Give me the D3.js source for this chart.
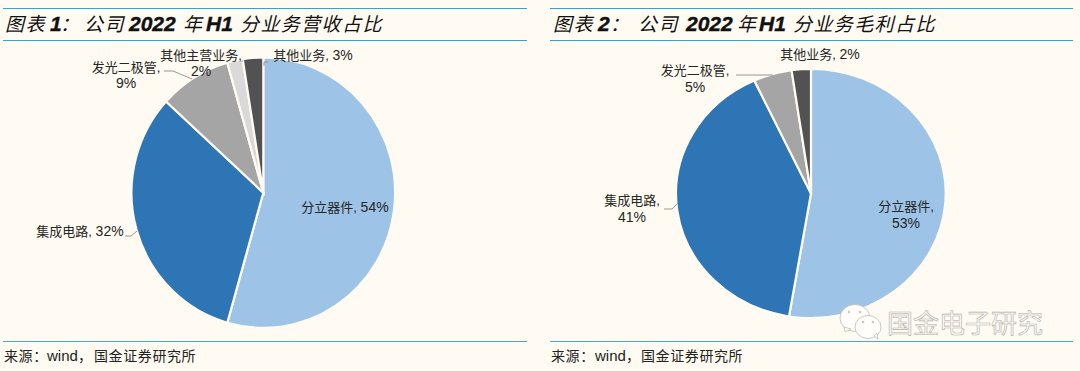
<!DOCTYPE html>
<html>
<head>
<meta charset="utf-8">
<script src="https://cdn.jsdelivr.net/npm/d3@7"></script>
<style>
html, body { margin: 0; padding: 0; background: #fffbf2; }
svg { display: block; }
text { font-family: "Liberation Sans", "Noto Sans CJK SC", sans-serif; }
</style>
</head>
<body>
<div class="container"></div>
<script>
const WIDTH = 1080;
const HEIGHT = 371;

const categoriesA = ['分立器件', '集成电路', '发光二极管', '其他主营业务', '其他业务'];
const valuesA = [54.4, 32.4, 8.8, 1.9, 2.5];
const categoriesB = ['分立器件', '集成电路', '发光二极管', '其他业务'];
const valuesB = [52.6, 40.5, 4.6, 2.3];
const colorsA = ['#9dc3e6', '#2e75b6', '#a5a5a5', '#d9d9d9', '#525252'];
const colorsB = ['#9dc3e6', '#2e75b6', '#a5a5a5', '#525252'];

var svg = d3.select('.container').append('svg')
    .attr('width', WIDTH)
    .attr('height', HEIGHT);

var drawPanel = function(p) {
    var g = svg.append('g');

    g.selectAll('line.rule').data([8.5, 40.5, 341.5]).enter().append('line')
        .attr('x1', p.x0).attr('x2', p.x1)
        .attr('y1', d => d).attr('y2', d => d)
        .attr('stroke', d => d === 341.5 ? '#4aa8d8' : '#1fa9e6')
        .attr('stroke-width', 1.2);

    // title pieces are placed one by one, cjk is thin, latin is heavy
    p.title.forEach(function(t) {
        g.append('text')
            .attr('x', t.x).attr('y', 31)
            .attr('font-style', 'italic')
            .attr('font-weight', t.bold ? 700 : 400)
            .attr('font-size', t.bold ? 21 : 19)
            .attr('letter-spacing', t.bold ? 0 : 1.4)
            .attr('fill', '#111')
            .attr('stroke', t.bold ? '#111' : 'none')
            .attr('stroke-width', 0.4)
            .text(t.s);
    });

    var pie = d3.pie().sort(null).value(d => d)(p.values);
    var arc = d3.arc().innerRadius(0).outerRadius(1);
    var rx = d3.scaleLinear().domain([0, 1]).range([0, p.rx]);
    var ry = d3.scaleLinear().domain([0, 1]).range([0, p.ry]);

    // slices are squashed a little in the source, so scale the unit arc
    var slices = g.append('g')
        .attr('transform', 'translate(' + p.cx + ',' + p.cy + ') scale(' + rx(1) + ',' + ry(1) + ')');
    slices.selectAll('path').data(pie).enter().append('path')
        .attr('d', arc)
        .attr('fill', (d, i) => p.colors[i])
        .attr('stroke', '#fffbf2')
        .attr('stroke-width', 2.2)
        .attr('vector-effect', 'non-scaling-stroke');

    p.leaders.forEach(function(l) {
        g.append('path')
            .attr('d', d3.line()(l))
            .attr('fill', 'none')
            .attr('stroke', '#7f7f7f')
            .attr('stroke-width', 0.8);
    });

    p.labels.forEach(function(l, i) {
        var name = p.categories[i], pct = Math.round(p.values[i]) + '%';
        var t = g.append('text')
            .attr('text-anchor', 'middle')
            .attr('font-size', 13)
            .attr('fill', '#262626');
        if (l.length === 2) {
            t.attr('x', l[0]).attr('y', l[1]);
            t.append('tspan').text(name + ', ');
            t.append('tspan').attr('font-size', 14).text(pct);
        } else {
            t.append('tspan').attr('x', l[0]).attr('y', l[1]).text(name + ',');
            t.append('tspan').attr('x', l[0]).attr('y', l[2]).attr('font-size', 14).text(pct);
        }
    });

    p.source.forEach(function(s) {
        g.append('text')
            .attr('x', s.x).attr('y', 361)
            .attr('font-size', s.latin ? 15 : 14)
            .attr('letter-spacing', s.latin ? 0 : 0.6)
            .attr('fill', '#222')
            .text(s.s);
    });
};

drawPanel({
    x0: 3, x1: 527,
    title: [{s: '图表', x: 5}, {s: '1', x: 50, bold: true}, {s: '：', x: 60}, {s: '公司', x: 84}, {s: '2022', x: 129, bold: true}, {s: '年', x: 183}, {s: 'H1', x: 206, bold: true}, {s: '分业务营收占比', x: 240}],
    cx: 263.3, cy: 192.7, rx: 131.8, ry: 135.2,
    values: valuesA, categories: categoriesA, colors: colorsA,
    labels: [[345, 212], [80, 236], [126, 72, 88], [201, 60, 76], [313, 60]],
    leaders: [
        [[125, 236], [131, 236], [137, 231]],
        [[164, 71], [173, 71], [192, 79]],
        [[242, 61], [243, 61]],
        [[264, 66], [264, 62], [268, 62]]
    ],
    source: [{s: '来源：', x: 4}, {s: 'wind', x: 47, latin: true}, {s: '，', x: 78}, {s: '国金证券研究所', x: 94}]
});

drawPanel({
    x0: 550, x1: 1073,
    title: [{s: '图表', x: 553}, {s: '2', x: 598, bold: true}, {s: '：', x: 610}, {s: '公司', x: 638}, {s: '2022', x: 686, bold: true}, {s: '年', x: 737}, {s: 'H1', x: 759, bold: true}, {s: '分业务毛利占比', x: 793}],
    cx: 811, cy: 193.5, rx: 135, ry: 124.6,
    values: valuesB, categories: categoriesB, colors: colorsB,
    labels: [[906, 211, 228], [632, 205, 222], [695, 75, 92], [820, 59]],
    leaders: [
        [[664, 209], [672, 209], [678, 203]],
        [[736, 75], [773, 75]]
    ],
    source: [{s: '来源：', x: 551}, {s: 'wind', x: 595, latin: true}, {s: '，', x: 626}, {s: '国金证券研究所', x: 641}]
});

// watermark
var wm = svg.append('g').attr('fill', '#fffefb').attr('stroke', '#bdbbb6').attr('stroke-width', 0.8);
wm.append('ellipse').attr('cx', 855).attr('cy', 318).attr('rx', 15).attr('ry', 13.5);
wm.append('path').attr('d', 'M844 327 L845 332 L851 329 Z');
wm.append('ellipse').attr('cx', 868).attr('cy', 327).attr('rx', 13).attr('ry', 11.5);
wm.append('path').attr('d', 'M874 336 L878 339 L877 333 Z');
wm.selectAll('circle').data([[849, 312], [860, 312], [863, 322], [873, 322]]).enter().append('circle')
    .attr('cx', d => d[0]).attr('cy', d => d[1]).attr('r', 1.3)
    .attr('fill', '#c9c7c2').attr('stroke', 'none');
wm.append('text')
    .attr('x', 887).attr('y', 333)
    .attr('font-size', 26)
    .attr('fill', '#fffdf8')
    .attr('stroke', '#b0aea9')
    .attr('stroke-width', 0.6)
    .text('国金电子研究');
</script>
</body>
</html>
